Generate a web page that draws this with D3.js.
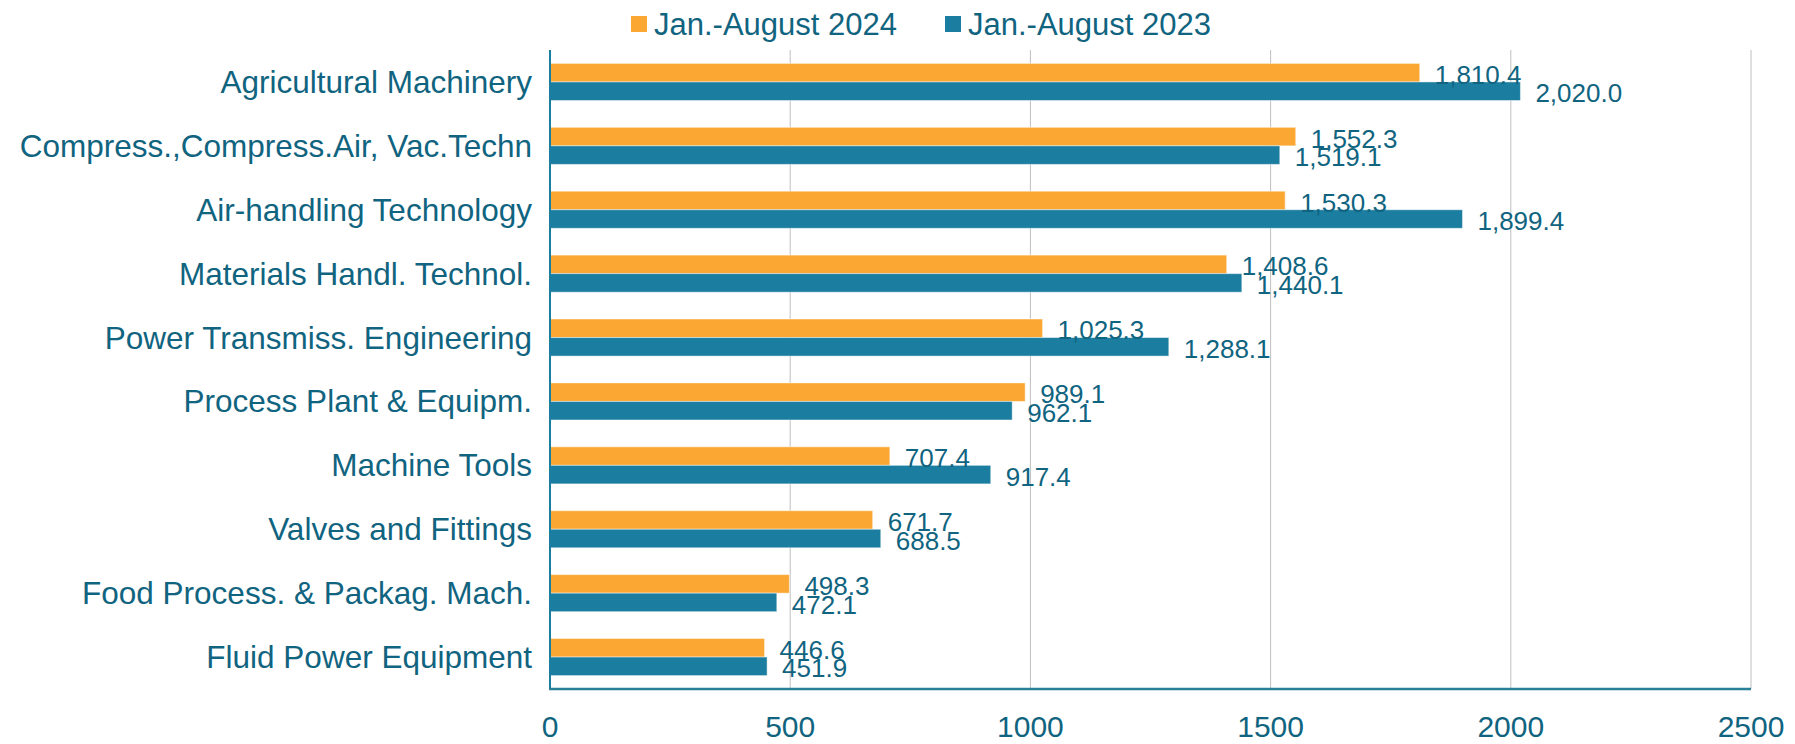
<!DOCTYPE html>
<html>
<head>
<meta charset="utf-8">
<script src="https://cdn.jsdelivr.net/npm/d3@7"></script>
<style>
  body { margin: 0; background: #fff; }
  svg { display: block; font-family: "Liberation Sans", Arial, sans-serif; }
</style>
</head>
<body>
<svg class="chart" width="1795" height="744"></svg>
<script>
	// categories, top to bottom
	var categories = [
		"Agricultural Machinery",
		"Compress.,Compress.Air, Vac.Techn",
		"Air-handling Technology",
		"Materials Handl. Technol.",
		"Power Transmiss. Engineering",
		"Process Plant & Equipm.",
		"Machine Tools",
		"Valves and Fittings",
		"Food Process. & Packag. Mach.",
		"Fluid Power Equipment"
	];

	var seriesNames = ["Jan.-August 2024", "Jan.-August 2023"];

	var values2024 = [1810.4, 1552.3, 1530.3, 1408.6, 1025.3, 989.1, 707.4, 671.7, 498.3, 446.6];
	var values2023 = [2020.0, 1519.1, 1899.4, 1440.1, 1288.1, 962.1, 917.4, 688.5, 472.1, 451.9];

	var xTicks = [0, 500, 1000, 1500, 2000, 2500];

	var colors = ["#FAA833", "#1B7D9F"];
	var textColor = "#106480";

	var svg = d3.select("svg.chart"),
		margin = {top: 50, right: 44, bottom: 55, left: 550},
		width = +svg.attr("width") - margin.left - margin.right,
		height = +svg.attr("height") - margin.top - margin.bottom;

	var x = d3.scaleLinear().domain([0, 2500]).range([margin.left, margin.left + width]);

	var y = d3.scaleBand()
		.domain(categories)
		.range([margin.top, margin.top + height])
		.paddingInner(0.42)
		.paddingOuter(0.21);

	var y1 = d3.scaleBand().domain(seriesNames).range([0, y.bandwidth()]);

	var fmt = d3.format(",.1f");

	// rows: one per category with both series
	var rows = categories.map(function(c, i) {
		return {
			cat: c,
			vals: [
				{name: seriesNames[0], v: values2024[i], idx: 0},
				{name: seriesNames[1], v: values2023[i], idx: 1}
			]
		};
	});

	//gridlines
	svg.append("g")
		.attr("class", "grid")
		.selectAll("line")
		.data(xTicks.slice(1))
		.enter().append("line")
		.attr("x1", function(d) { return x(d); })
		.attr("x2", function(d) { return x(d); })
		.attr("y1", margin.top)
		.attr("y2", margin.top + height)
		.attr("stroke", "#BFBFBF")
		.attr("stroke-width", 1);

	//bars
	var groups = svg.selectAll(".cat")
		.data(rows)
		.enter().append("g")
		.attr("class", "cat")
		.attr("transform", function(d) { return "translate(0," + y(d.cat) + ")"; });

	groups.selectAll("rect")
		.data(function(d) { return d.vals; })
		.enter().append("rect")
		.attr("x", x(0))
		.attr("y", function(d) { return y1(d.name); })
		.attr("width", function(d) { return x(d.v) - x(0); })
		.attr("height", y1.bandwidth())
		.attr("fill", function(d) { return colors[d.idx]; })
		.attr("stroke", "#ffffff")
		.attr("stroke-opacity", 0.45)
		.attr("stroke-width", 1);

	//value labels (they overlap in the original too)
	groups.selectAll("text.val")
		.data(function(d) { return d.vals; })
		.enter().append("text")
		.attr("class", "val")
		.attr("x", function(d) { return x(d.v) + 15; })
		.attr("y", function(d) { return y1(d.name) + y1.bandwidth() / 2 + 2; })
		.attr("dy", "0.35em")
		.attr("fill", textColor)
		.style("font-size", "26px")
		.text(function(d) { return fmt(d.v); });

	//category labels
	svg.append("g")
		.selectAll("text")
		.data(categories)
		.enter().append("text")
		.attr("x", margin.left - 18)
		.attr("y", function(d) { return y(d) + y.bandwidth() / 2; })
		.attr("dy", "0.35em")
		.attr("text-anchor", "end")
		.attr("fill", textColor)
		.style("font-size", "31.5px")
		.text(function(d) { return d; });

	//axis lines
	svg.append("line")
		.attr("x1", x(0)).attr("x2", x(0))
		.attr("y1", margin.top).attr("y2", margin.top + height)
		.attr("stroke", "#1B7D9F")
		.attr("stroke-width", 2);

	svg.append("line")
		.attr("x1", x(0) - 1).attr("x2", x(2500))
		.attr("y1", margin.top + height).attr("y2", margin.top + height)
		.attr("stroke", "#2A7F99")
		.attr("stroke-width", 2.5);

	//x tick labels
	svg.append("g")
		.selectAll("text")
		.data(xTicks)
		.enter().append("text")
		.attr("x", function(d) { return x(d); })
		.attr("y", 737)
		.attr("text-anchor", "middle")
		.attr("fill", textColor)
		.style("font-size", "30px")
		.text(function(d) { return d; });

	//legend
	var legendX = [631, 945];
	var legend = svg.append("g").attr("class", "legend")
		.selectAll("g")
		.data(seriesNames)
		.enter().append("g")
		.attr("transform", function(d, i) { return "translate(" + legendX[i] + ",0)"; });

	legend.append("rect")
		.attr("x", 0).attr("y", 16)
		.attr("width", 16).attr("height", 16)
		.attr("fill", function(d, i) { return colors[i]; });

	legend.append("text")
		.attr("x", 23).attr("y", 34.5)
		.attr("fill", textColor)
		.style("font-size", "31px")
		.text(function(d) { return d; });
</script>
</body>
</html>
